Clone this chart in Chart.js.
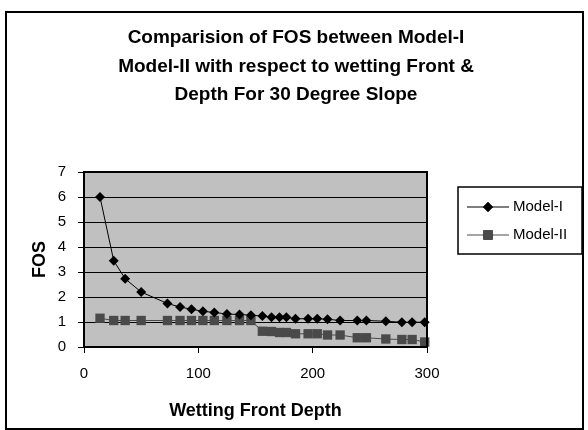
<!DOCTYPE html>
<html>
<head>
<meta charset="utf-8">
<script src="https://cdn.jsdelivr.net/npm/chart.js@4.4.0/dist/chart.umd.min.js"></script>
<style>
  html, body { margin: 0; padding: 0; background: #fff; }
  #wrap { width: 588px; height: 430px; }
</style>
</head>
<body>
<div id="wrap"><canvas id="myChart" width="588" height="430"></canvas></div>
<script>
// wetting front depth
var depth = [14, 26, 36, 50, 73, 84, 94, 104, 114, 125, 136, 146, 156, 164, 171, 177, 185, 196, 204, 213, 224, 239, 247, 264, 278, 287, 298];
var fosModel1 = [6.0, 3.45, 2.73, 2.2, 1.74, 1.6, 1.51, 1.43, 1.38, 1.32, 1.3, 1.27, 1.24, 1.19, 1.19, 1.19, 1.13, 1.13, 1.13, 1.11, 1.06, 1.06, 1.06, 1.03, 0.99, 0.99, 0.99];
var fosModel2 = [1.15, 1.06, 1.06, 1.06, 1.06, 1.06, 1.06, 1.06, 1.06, 1.06, 1.06, 1.06, 0.63, 0.62, 0.58, 0.58, 0.53, 0.53, 0.53, 0.48, 0.48, 0.37, 0.37, 0.32, 0.3, 0.3, 0.2];
var seriesNames = ['Model-I', 'Model-II'];
var titleLines = ['Comparision of FOS between Model-I', 'Model-II with respect to wetting Front &', 'Depth For 30 Degree Slope'];
var xTicks = [0, 100, 200, 300];
var yTicks = [0, 1, 2, 3, 4, 5, 6, 7];

function toPoints(xs, ys) {
    var pts = [];
    for (var i = 0; i < xs.length; i++) pts.push({x: xs[i], y: ys[i]});
    return pts;
}

var FONT = "'Liberation Sans', Arial, sans-serif";

// grey plot area, frame, title and the boxed legend
var excelLook = {
    id: 'excelLook',
    beforeDraw: function (chart) {
        var c = chart.ctx, a = chart.chartArea;
        c.save();
        c.fillStyle = '#fff';
        c.fillRect(0, 0, chart.width, chart.height);
        c.fillStyle = '#c0c0c0';
        c.fillRect(a.left, a.top, a.right - a.left, a.bottom - a.top);
        c.restore();
    },
    afterDatasetsDraw: function (chart) {
        var c = chart.ctx, a = chart.chartArea;
        c.save();
        c.strokeStyle = '#000';
        c.lineWidth = 2;
        c.strokeRect(a.left, a.top, a.right - a.left, a.bottom - a.top);
        c.restore();
    },
    afterDraw: function (chart) {
        var c = chart.ctx;
        c.save();
        // outer frame
        c.strokeStyle = '#000';
        c.lineWidth = 2;
        c.strokeRect(6, 12, 577, 417);

        // title
        c.fillStyle = '#000';
        c.font = 'bold 19px ' + FONT;
        c.textAlign = 'center';
        c.textBaseline = 'middle';
        for (var i = 0; i < titleLines.length; i++) {
            c.fillText(titleLines[i], 296, 38 + i * 28.5);
        }

        // legend
        c.lineWidth = 1.5;
        c.strokeRect(458, 187, 124, 67);
        c.font = '15px ' + FONT;
        c.textAlign = 'left';
        var ds = chart.data.datasets;
        for (var k = 0; k < ds.length; k++) {
            var y = 207 + k * 28;
            c.strokeStyle = ds[k].borderColor;
            c.lineWidth = 1;
            c.beginPath();
            c.moveTo(467, y);
            c.lineTo(509, y);
            c.stroke();
            Chart.helpers.drawPoint(c, {
                pointStyle: ds[k].pointStyle,
                radius: ds[k].pointRadius,
                borderWidth: 0,
                rotation: 0
            }, 488, y);
            c.fillStyle = ds[k].pointBackgroundColor;
            c.fill();
            c.fillStyle = '#000';
            c.fillText(seriesNames[k], 513, y);
        }
        c.restore();
    }
};

var ctx = document.getElementById('myChart').getContext('2d');
var chart = new Chart(ctx, {
    type: 'line',
    data: {
        datasets: [{
            label: seriesNames[0],
            data: toPoints(depth, fosModel1),
            borderColor: '#000',
            borderWidth: 1,
            pointStyle: 'rectRot',
            pointRadius: 5,
            pointBackgroundColor: '#000',
            pointBorderColor: '#000',
            pointBorderWidth: 0
        }, {
            label: seriesNames[1],
            data: toPoints(depth, fosModel2),
            borderColor: '#4a4a4a',
            borderWidth: 1,
            pointStyle: 'rect',
            pointRadius: 6.6,
            pointBackgroundColor: '#4a4a4a',
            pointBorderColor: '#4a4a4a',
            pointBorderWidth: 0
        }]
    },
    options: {
        responsive: false,
        animation: false,
        clip: false,
        layout: {padding: {top: 172, left: 0, right: 161, bottom: 0}},
        plugins: {
            legend: {display: false},
            title: {display: false},
            tooltip: {enabled: false}
        },
        scales: {
            x: {
                type: 'linear',
                min: 0,
                max: 300,
                afterBuildTicks: function (axis) {
                    axis.ticks = xTicks.map(function (v) { return {value: v}; });
                },
                afterFit: function (axis) { axis.height = 83; },
                grid: {drawOnChartArea: false, color: '#000', tickLength: 6, tickWidth: 1},
                border: {color: '#000', width: 2},
                ticks: {color: '#000', font: {family: FONT, size: 15}, padding: 12, maxRotation: 0},
                title: {
                    display: true,
                    text: 'Wetting Front Depth',
                    color: '#000',
                    font: {family: FONT, size: 18, weight: 'bold'},
                    padding: {top: 0, bottom: 8}
                }
            },
            y: {
                min: 0,
                max: 7,
                afterBuildTicks: function (axis) {
                    axis.ticks = yTicks.map(function (v) { return {value: v}; });
                },
                afterFit: function (axis) { axis.width = 84; },
                grid: {color: '#000', lineWidth: 1, tickLength: 6},
                border: {color: '#000', width: 2},
                ticks: {color: '#000', font: {family: FONT, size: 15}, padding: 12},
                title: {
                    display: true,
                    text: 'FOS',
                    color: '#000',
                    font: {family: FONT, size: 18, weight: 'bold'},
                    padding: {top: 29, bottom: 0}
                }
            }
        }
    },
    plugins: [excelLook]
});
</script>
</body>
</html>
